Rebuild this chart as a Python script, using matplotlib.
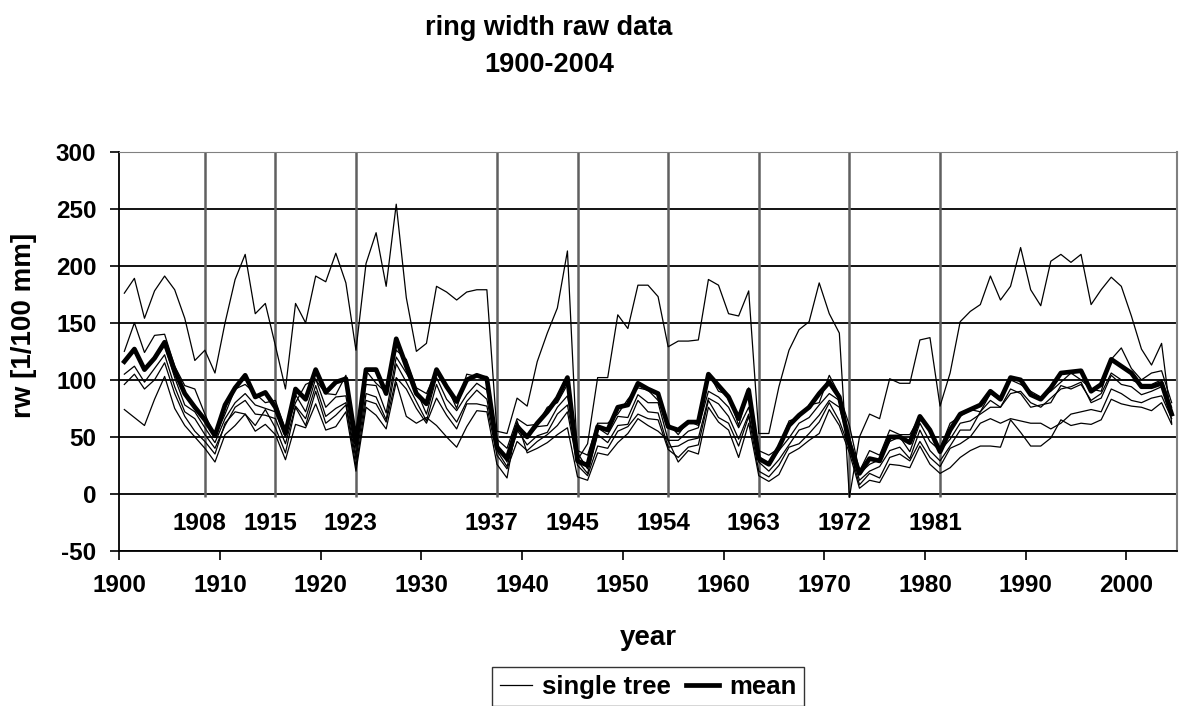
import numpy as np
import matplotlib
matplotlib.use("Agg")
import matplotlib.pyplot as plt

plt.rcParams["font.family"] = ["Liberation Sans", "DejaVu Sans"]
plt.rcParams["font.weight"] = "bold"
plt.rcParams["axes.unicode_minus"] = False

years = np.arange(1900, 2005)

# high-growing single tree
tree_a = [176, 189, 154, 178, 191, 179, 154, 117, 126, 106,
          150, 188, 210, 158, 167, 130, 92, 167, 150, 191,
          186, 211, 185, 126, 202, 229, 182, 254, 172, 125,
          132, 182, 177, 170, 177, 179, 179, 55, 53, 84,
          77, 116, 141, 163, 213, 30, 44, 102, 102, 157,
          145, 183, 183, 173, 129, 134, 134, 135, 188, 183,
          158, 156, 178, 53, 53, 94, 126, 144, 151, 185,
          158, 141, -3, 50, 70, 66, 101, 97, 97, 135,
          137, 77, 106, 151, 160, 166, 191, 170, 182, 216,
          179, 165, 204, 210, 203, 210, 166, 179, 190, 182,
          156, 127, 113, 132, 62]

tree_b = [125, 150, 124, 139, 140, 112, 95, 92, 70, 50,
          70, 92, 96, 88, 80, 82, 56, 80, 96, 100,
          88, 87, 104, 40, 108, 97, 89, 126, 118, 93,
          88, 108, 95, 75, 105, 103, 103, 48, 40, 66,
          60, 61, 76, 80, 96, 38, 34, 62, 62, 70,
          83, 93, 91, 82, 62, 52, 64, 60, 106, 90,
          87, 60, 93, 38, 34, 40, 64, 67, 78, 80,
          104, 87, 60, 20, 38, 34, 56, 52, 52, 68,
          56, 40, 62, 68, 74, 72, 88, 82, 100, 96,
          90, 85, 90, 98, 106, 100, 92, 90, 118, 128,
          110, 100, 106, 108, 80]

tree_c = [115, 125, 108, 118, 130, 102, 78, 72, 58, 45,
          66, 80, 88, 78, 75, 72, 50, 87, 72, 101,
          76, 85, 86, 34, 96, 95, 71, 120, 106, 91,
          70, 102, 83, 73, 87, 97, 91, 44, 28, 62,
          50, 59, 60, 76, 86, 36, 22, 58, 52, 68,
          67, 87, 80, 80, 47, 47, 55, 58, 90, 85,
          76, 58, 76, 33, 26, 38, 49, 62, 67, 78,
          88, 82, 50, 18, 26, 30, 46, 50, 37, 62,
          46, 38, 48, 62, 64, 70, 76, 76, 92, 88,
          76, 78, 80, 95, 92, 96, 82, 88, 106, 100,
          100, 96, 96, 100, 76]

tree_d = [105, 112, 98, 110, 122, 94, 72, 66, 52, 40,
          60, 76, 82, 70, 69, 66, 44, 77, 66, 95,
          68, 75, 80, 30, 88, 85, 65, 114, 98, 81,
          64, 96, 75, 63, 81, 91, 83, 38, 24, 56,
          43, 51, 54, 70, 78, 29, 18, 52, 45, 60,
          61, 82, 72, 71, 41, 42, 47, 49, 84, 79,
          68, 48, 70, 28, 20, 30, 43, 56, 59, 69,
          82, 76, 44, 12, 20, 24, 38, 41, 31, 56,
          38, 29, 42, 56, 56, 72, 82, 76, 88, 90,
          80, 76, 84, 92, 94, 98, 80, 84, 104, 96,
          94, 87, 90, 94, 70]

tree_e = [96, 105, 92, 100, 115, 88, 68, 55, 46, 35,
          62, 72, 70, 60, 74, 58, 36, 76, 60, 90,
          62, 69, 78, 24, 82, 79, 63, 102, 92, 75,
          62, 84, 69, 57, 79, 79, 77, 34, 22, 46,
          38, 46, 52, 60, 72, 25, 16, 42, 40, 55,
          59, 70, 66, 65, 39, 32, 41, 43, 82, 67,
          62, 42, 68, 20, 15, 25, 41, 44, 53, 63,
          80, 64, 40, 8, 18, 14, 32, 35, 29, 46,
          32, 24, 40, 44, 50, 62, 66, 62, 66, 64,
          62, 62, 57, 62, 70, 72, 74, 72, 92, 88,
          82, 80, 84, 86, 66]

tree_f = [74, 67, 60, 83, 103, 75, 60, 50, 40, 28,
          52, 60, 70, 55, 61, 52, 30, 61, 58, 79,
          56, 59, 72, 20, 76, 69, 57, 98, 68, 62,
          67, 60, 50, 41, 59, 73, 72, 26, 14, 64,
          36, 40, 45, 52, 58, 15, 12, 36, 34, 45,
          53, 66, 60, 55, 47, 28, 38, 35, 76, 63,
          56, 32, 62, 16, 11, 17, 35, 40, 47, 53,
          74, 60, 36, 5, 12, 10, 26, 25, 23, 42,
          26, 18, 23, 32, 38, 42, 42, 41, 65, 54,
          42, 42, 49, 65, 60, 62, 61, 65, 83, 79,
          77, 76, 73, 80, 61]

mean_rw = [116, 127, 109, 119, 133, 108, 88, 76, 65, 51,
           78, 93, 104, 85, 89, 76, 53, 92, 83, 109,
           89, 98, 101, 45, 109, 109, 88, 136, 112, 88,
           79, 109, 94, 81, 100, 104, 101, 41, 31, 59,
           50, 62, 72, 84, 102, 29, 25, 59, 56, 76,
           78, 97, 92, 88, 59, 56, 63, 63, 105, 95,
           85, 66, 91, 31, 26, 41, 60, 69, 76, 88,
           98, 85, 44, 18, 31, 29, 50, 50, 45, 68,
           56, 37, 56, 70, 74, 78, 90, 83, 102, 100,
           87, 83, 93, 106, 107, 108, 90, 96, 118, 112,
           106, 94, 94, 97, 70]

event_years = [1908, 1915, 1923, 1937, 1945, 1954, 1963, 1972, 1981]

W, H = 1182, 706
fig = plt.figure(figsize=(W / 100, H / 100), dpi=100)
ax = fig.add_axes([119.3 / W, 1 - 551 / H, (1176.7 - 119.3) / W, (551 - 151.7) / H])

xpos = years + 0.5
ax.vlines([y + 0.5 for y in event_years], -3, 300, color="#606060", lw=1.8, zorder=1)
for y in event_years:
    ax.text(y, -26, str(y), ha="center", va="center", fontsize=17.5, fontweight="bold")

trees = [tree_a, tree_b, tree_c, tree_d, tree_e, tree_f]
for i, t in enumerate(trees):
    ax.plot(xpos, t, color="black", lw=0.9, zorder=3,
            label="single tree" if i == 0 else None)
ax.plot(xpos, mean_rw, color="black", lw=3.4, zorder=4, label="mean")

ax.set_xlim(1900, 2005)
ax.set_ylim(-50, 300)
ax.set_xticks(np.arange(1900, 2001, 10))
ax.set_yticks(np.arange(-50, 301, 50))
ax.yaxis.grid(True, color="black", lw=1.3)
ax.set_axisbelow(True)
ax.tick_params(axis="both", direction="out", length=6.5, width=1.2,
               labelsize=17.5, color="black")
ax.tick_params(axis="y", pad=10)
ax.tick_params(axis="x", pad=10)
for lab in ax.get_xticklabels() + ax.get_yticklabels():
    lab.set_fontweight("bold")

ax.spines["left"].set_color("black")
ax.spines["left"].set_linewidth(1.3)
ax.spines["bottom"].set_color("black")
ax.spines["bottom"].set_linewidth(1.3)
ax.spines["top"].set_color("#808080")
ax.spines["right"].set_color("#808080")
ax.spines["right"].set_linewidth(1.5)

ax.set_xlabel("year", fontsize=20, fontweight="bold", labelpad=20)
fig.text(24 / W, 1 - 325 / H, "rw [1/100 mm]", rotation=90, ha="center", va="center",
         fontsize=20, fontweight="bold")

fig.text(549 / W, 1 - 35 / H, "ring width raw data", ha="center", va="baseline",
         fontsize=19.5, fontweight="bold")
fig.text(549 / W, 1 - 72 / H, "1900-2004", ha="center", va="baseline",
         fontsize=19.5, fontweight="bold")

leg = fig.legend(loc="upper center", bbox_to_anchor=(648 / W, 1 - 667 / H), ncol=2,
                 fontsize=18.5, frameon=True, fancybox=False, handlelength=1.25,
                 handletextpad=0.4, columnspacing=0.6, borderpad=0.3, borderaxespad=0)
leg.get_frame().set_edgecolor("black")
leg.get_frame().set_linewidth(1.0)
for txt in leg.get_texts():
    txt.set_fontweight("bold")

fig.savefig("out.png", dpi=100)
